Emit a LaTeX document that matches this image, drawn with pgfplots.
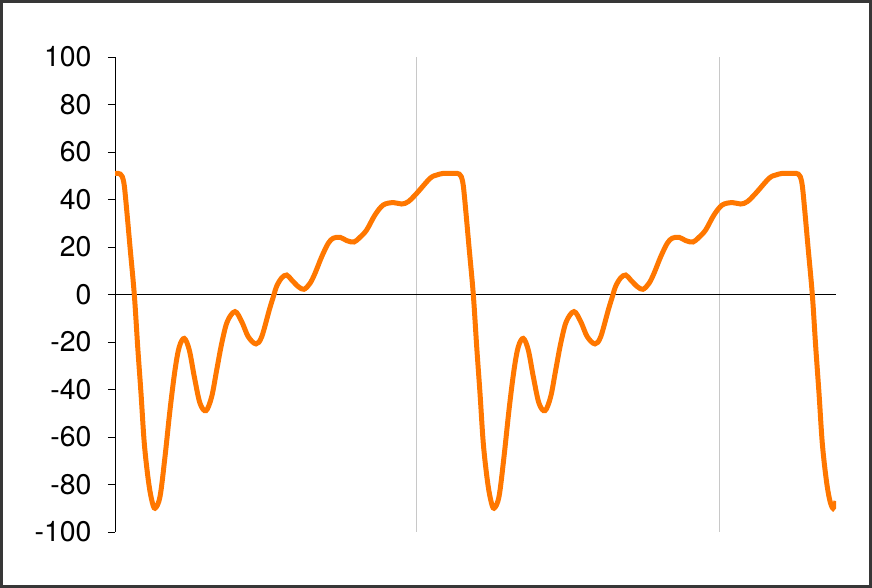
\documentclass[border=0pt]{standalone}
\usepackage{pgfplots}
\pgfplotsset{compat=1.18}
\usepackage{fontspec}
\setmainfont{TeX Gyre Heros}
\definecolor{curve}{RGB}{255,119,0}
\definecolor{frame}{RGB}{55,55,55}
\definecolor{gridgray}{RGB}{200,200,200}
\begin{document}
\begin{tikzpicture}
\path[use as bounding box] (0,0) rectangle (872bp,588bp);
\draw[frame, line width=3bp] (1.5bp,1.5bp) rectangle (870.5bp,586.5bp);
\begin{axis}[
  at={(115bp,56bp)}, anchor=south west,
  scale only axis,
  width=721bp, height=475bp,
  xmin=0, xmax=721,
  ymin=-100, ymax=100,
  axis x line=middle,
  axis y line=left,
  x axis line style={-, black, line width=0.8bp},
  y axis line style={-, black, line width=0.8bp},
  hide obscured x ticks=false,
  hide obscured y ticks=false,
  xtick={301,604},
  xticklabels={},
  xtick style={draw=none},
  xmajorgrids,
  major grid style={gridgray, line width=1bp},
  ytick={-100,-80,-60,-40,-20,0,20,40,60,80,100},
  yticklabels={-100,-80,-60,-40,-20,0,20,40,60,80,100},
  ytick style={black, line width=0.8bp},
  tick align=outside,
  major tick length=7bp,
  yticklabel style={font=\fontsize{28.5}{32}\selectfont, xshift=-13bp},
]
\addplot[curve, line width=5bp, smooth, tension=0.55] coordinates {
(0,51.0) (3,51.0) (5.3,50.7) (7.3,49.6) (9.3,45.8) (11.7,35.6) (15,20.1) (19.3,0)
(22.7,-22.0) (26,-41.6) (29.3,-62.7) (33.3,-78.1) (36.7,-86.5) (40,-90.0)
(45,-85.1) (50,-68.3) (55,-48.6) (60,-31.8) (64.3,-22.0) (69.3,-18.5)
(74.3,-23.4) (79.3,-34.6) (85,-45.8) (91,-48.9) (96.7,-43.0) (101.7,-31.8)
(106.7,-20.6) (112.3,-11.4) (120,-7.2) (126.7,-11.4) (133.3,-17.8) (141,-20.8)
(146.7,-17.8) (154.3,-6.5) (158.3,-1.0) (161.7,3.5) (166.7,7.0) (171.7,8.2)
(176.7,6.1) (183.3,3.3) (189,2.2) (195,4.7) (200,8.9) (206.7,15.9) (213.3,21.6)
(218.3,23.7) (225,24.1) (231.7,22.7) (239,22.1) (245,24.1) (251.7,27.2)
(260,33.5) (268.3,37.7) (278.3,38.7) (286.7,38.1) (293.3,39.1) (301.7,42.6)
(315,48.9) (321.7,50.3) (328.3,51.0) (335,51.0)
(339,51.0) (342,51.0) (344.3,50.7) (346.3,49.6) (348.3,45.8) (350.7,35.6) (354,20.1) (358.3,0)
(361.7,-22.0) (365,-41.6) (368.3,-62.7) (372.3,-78.1) (375.7,-86.5) (379,-90.0)
(384,-85.1) (389,-68.3) (394,-48.6) (399,-31.8) (403.3,-22.0) (408.3,-18.5)
(413.3,-23.4) (418.3,-34.6) (424,-45.8) (430,-48.9) (435.7,-43.0) (440.7,-31.8)
(445.7,-20.6) (451.3,-11.4) (459,-7.2) (465.7,-11.4) (472.3,-17.8) (480,-20.8)
(485.7,-17.8) (493.3,-6.5) (497.3,-1.0) (500.7,3.5) (505.7,7.0) (510.7,8.2)
(515.7,6.1) (522.3,3.3) (528,2.2) (534,4.7) (539,8.9) (545.7,15.9) (552.3,21.6)
(557.3,23.7) (564,24.1) (570.7,22.7) (578,22.1) (584,24.1) (590.7,27.2)
(599,33.5) (607.3,37.7) (617.3,38.7) (625.7,38.1) (632.3,39.1) (640.7,42.6)
(654,48.9) (660.7,50.3) (667.3,51.0) (674,51.0)
(678,51.0) (681,51.0) (683.3,50.7) (685.3,49.6) (687.3,45.8) (689.7,35.6) (693,20.1) (697.3,0)
(700.7,-22.0) (704,-41.6) (707.3,-62.7) (711.3,-78.1) (714.7,-86.5) (718,-90.0)
(721,-87.0)
};
\end{axis}
\end{tikzpicture}
\end{document}
